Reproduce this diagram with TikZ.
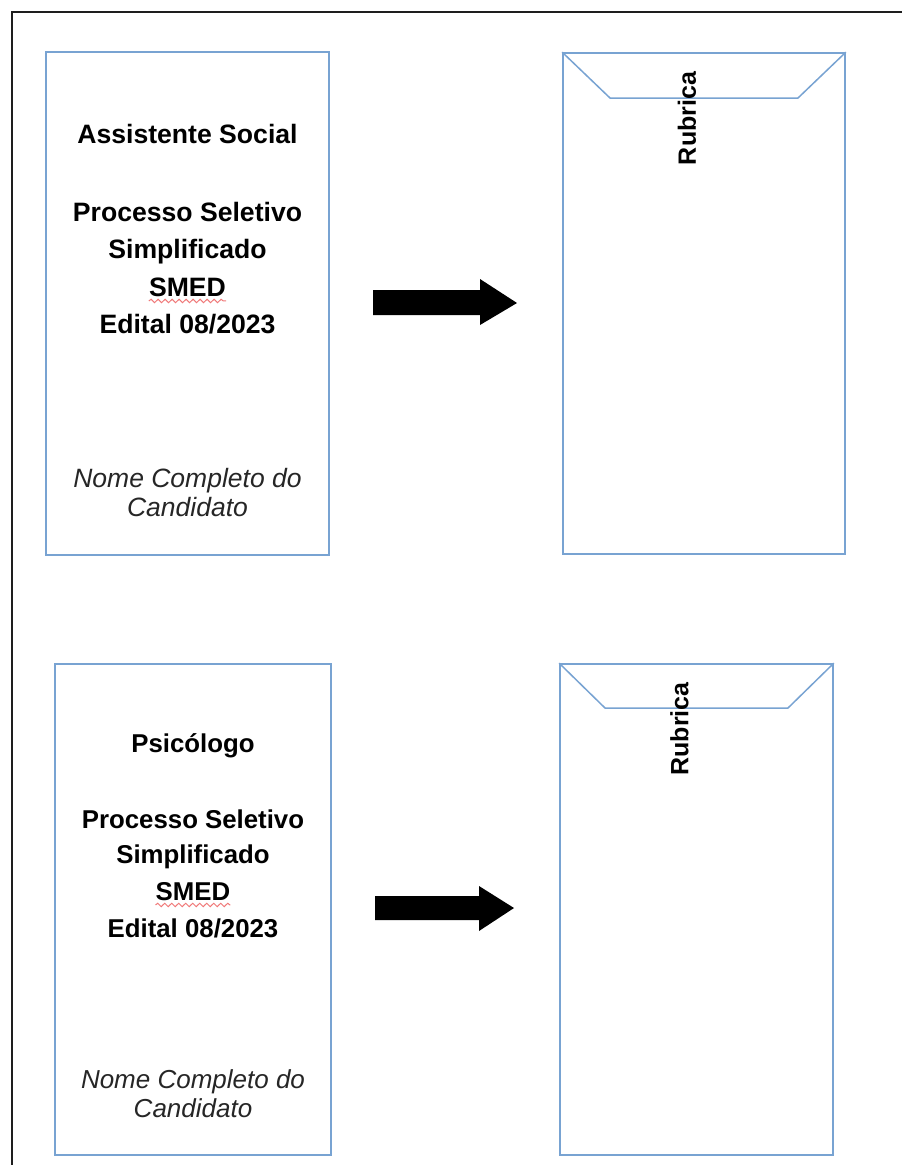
\documentclass[tikz,border=0pt]{standalone}
\usepackage{fontspec}
\setmainfont{Liberation Sans}
\usetikzlibrary{decorations.pathmorphing}
\definecolor{cardblue}{RGB}{120,163,210}
\definecolor{spellred}{RGB}{240,120,120}
\definecolor{framegray}{RGB}{30,30,30}
\tikzset{
  cardbox/.style={draw=cardblue, line width=1.6pt, rectangle, inner sep=0pt, fill=white},
  flapline/.style={draw=cardblue, line width=1.5pt, line join=round},
  boldA/.style={inner sep=0pt, anchor=base, font=\fontsize{26.6}{30}\selectfont\bfseries},
  boldB/.style={inner sep=0pt, anchor=base, font=\fontsize{25.8}{30}\selectfont\bfseries},
  italA/.style={inner sep=0pt, anchor=base, text=black!85, font=\fontsize{26.5}{30}\selectfont\itshape},
  italB/.style={inner sep=0pt, anchor=base, text=black!85, font=\fontsize{26}{30}\selectfont\itshape},
  rubr/.style={inner sep=0pt, rotate=90, anchor=center, font=\fontsize{25}{28}\selectfont\bfseries},
  blockarrow/.style={fill=black},
  spell/.style={draw=spellred, line width=1pt, decorate, decoration={snake, amplitude=1.7pt, segment length=7pt}}
}
\begin{document}
\begin{tikzpicture}[x=1pt,y=-1pt]
\useasboundingbox (0,0) rectangle (902,1165);
\clip (0,0) rectangle (902,1165);
\fill[white] (0,0) rectangle (902,1165);
% outer frame
\draw[framegray, line width=2.4pt] (12,1180) -- (12,12) -- (920,12);

% ---------- top row ----------
\node[cardbox, minimum width=283pt, minimum height=503pt] (card1) at (187.5,303.5) {};
\node[boldA] (t1a) at (187.5,143) {Assistente Social};
\node[boldA] (t1b) at (187.5,221) {Processo Seletivo};
\node[boldA] (t1c) at (187.5,258.5) {Simplificado};
\node[boldA] (smed1) at (187.5,296) {SMED};
\node[boldA] (t1e) at (187.5,333.5) {Edital 08/2023};
\node[italA] (n1a) at (187.5,487) {Nome Completo do};
\node[italA] (n1b) at (187.5,516) {Candidato};
\draw[spell] ([yshift=-4.5pt]smed1.south west) -- ([yshift=-4.5pt]smed1.south east);

\fill[blockarrow] (373,290) -- (480,290) -- (480,279) -- (517,303) -- (480,325) -- (480,315) -- (373,315) -- cycle;

\node[cardbox, minimum width=282pt, minimum height=501pt] (env1) at (704,303.5) {};
\draw[flapline] (env1.north west) -- (610,98) -- (798,98) -- (env1.north east);
\node[rubr] (rub1) at (687,118.5) {Rubrica};

% ---------- bottom row ----------
\node[cardbox, minimum width=276pt, minimum height=491pt] (card2) at (193,909.5) {};
\node[boldB] (t2a) at (193,752) {Psicólogo};
\node[boldB] (t2b) at (193,828) {Processo Seletivo};
\node[boldB] (t2c) at (193,863) {Simplificado};
\node[boldB] (smed2) at (193,900) {SMED};
\node[boldB] (t2e) at (193,937) {Edital 08/2023};
\node[italB] (n2a) at (193,1088) {Nome Completo do};
\node[italB] (n2b) at (193,1117) {Candidato};
\draw[spell] ([yshift=-4.5pt]smed2.south west) -- ([yshift=-4.5pt]smed2.south east);

\fill[blockarrow] (375,896) -- (479,896) -- (479,886) -- (514,908) -- (479,931) -- (479,920) -- (375,920) -- cycle;

\node[cardbox, minimum width=273pt, minimum height=491pt] (env2) at (696.5,909.5) {};
\draw[flapline] (env2.north west) -- (605,708) -- (788,708) -- (env2.north east);
\node[rubr] (rub2) at (679.5,729) {Rubrica};
\end{tikzpicture}
\end{document}
